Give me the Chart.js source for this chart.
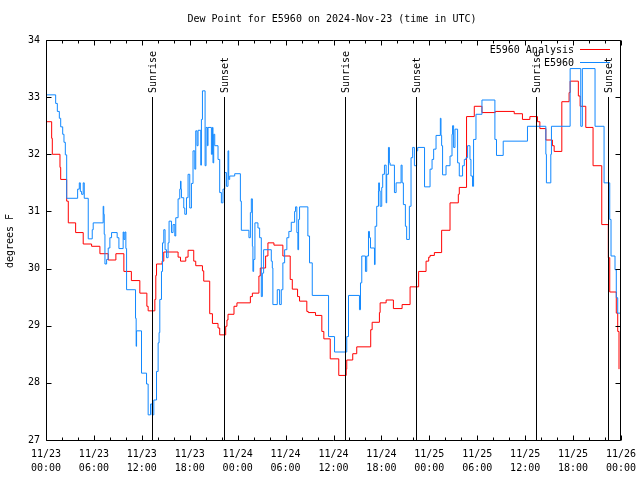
<!DOCTYPE html>
<html>
<head>
<meta charset="utf-8">
<script src="https://cdn.jsdelivr.net/npm/chart.js@4/dist/chart.umd.min.js"></script>
<style>html,body{margin:0;padding:0;background:#fff}canvas{display:block}</style>
</head>
<body>
<canvas id="c" width="640" height="480"></canvas>
<script>
// ---- data (hours since 2024-11-23 00:00 UTC) ----
const analysisHours = [0,0.71,0.79,1.75,1.84,2.59,2.79,3.71,4.66,5.71,6.75,7.79,8.75,9.75,10.69,11.75,12.63,12.79,13.63,13.75,13.84,14.54,14.75,16.54,16.84,17.5,17.79,18.5,18.75,19.59,19.75,20.5,20.84,21.54,21.75,22.5,22.66,22.79,23.54,23.91,25.59,25.84,26.66,26.83,27.5,27.79,28.54,29.66,30.58,30.84,31.5,31.75,32.66,32.84,33.75,34.54,34.79,35.59,36.66,37.59,37.66,38.41,38.91,40.66,40.84,41.75,41.84,42.59,43.5,44.59,45.59,46.66,47.59,47.92,48.09,48.63,49.54,50.59,51.63,51.75,52.66,53.63,54.59,56.25,58.63,59.66,60.59,61.54,61.84,62.59,63.41,63.63,64.59,65.5,65.63,66.66,66.88,67.59,68.5,69.59,70.41,70.59,71.41,71.59,71.75];
const analysisValues = [32.57,32.28,32.0,31.77,31.56,31.18,30.8,30.63,30.43,30.39,30.26,30.15,30.26,29.95,29.79,29.57,29.34,29.26,29.46,29.88,30.08,30.13,30.29,30.2,30.13,30.2,30.32,30.13,30.05,29.96,29.78,29.21,29.04,28.96,28.84,28.99,29.1,29.2,29.34,29.4,29.51,29.57,29.87,30.01,30.22,30.45,30.41,30.22,29.81,29.64,29.51,29.43,29.25,29.23,29.18,28.9,28.77,28.42,28.13,28.24,28.4,28.51,28.63,28.93,29.06,29.23,29.4,29.45,29.3,29.37,29.68,29.95,30.13,30.2,30.23,30.28,30.67,31.15,31.3,31.42,32.66,32.84,32.73,32.75,32.71,32.61,32.66,32.57,32.45,32.25,32.15,32.05,32.92,33.08,33.28,33.02,32.84,32.47,31.8,30.77,30.19,29.59,29.22,28.9,28.24];

const stationHours = [0,1.21,1.42,1.67,1.84,2.09,2.25,2.42,2.59,3.96,4.17,4.3,4.46,4.66,4.79,5.29,5.79,5.91,7.16,7.23,7.29,7.38,7.59,7.79,8.0,8.21,8.91,9.13,9.66,9.75,9.88,10.0,10.09,11.21,11.29,11.34,11.96,12.59,12.79,13.09,13.29,13.5,13.84,14.04,14.16,14.25,14.46,14.59,14.75,14.91,15.09,15.29,15.41,15.71,15.91,16.13,16.25,16.54,16.75,16.84,16.91,16.96,17.25,17.38,17.59,17.79,18.0,18.21,18.41,18.63,18.75,18.91,19.04,19.38,19.46,19.59,19.92,20.04,20.21,20.29,20.71,20.84,20.91,21.0,21.13,21.54,21.75,21.96,22.16,22.38,22.59,22.79,22.88,23.0,23.63,24.34,24.46,25.41,25.59,25.71,25.84,25.91,26.0,26.16,26.54,26.75,26.96,27.09,27.25,28.21,28.34,28.41,28.96,29.25,29.46,29.66,29.88,30.16,30.41,30.71,31.13,31.25,31.41,31.54,31.63,31.75,32.79,33.0,33.34,35.38,36.13,37.66,37.88,39.25,39.38,39.54,40.0,40.16,40.38,40.5,40.63,41.13,41.21,41.41,41.63,41.66,41.75,41.84,42.04,42.16,42.38,42.59,42.66,42.88,43.0,43.09,43.63,43.84,44.46,44.59,44.75,45.0,45.16,45.5,45.71,45.91,46.13,46.41,46.54,47.4,48.09,48.34,48.54,48.84,49.38,49.46,49.54,49.66,50.09,50.59,50.84,50.91,51.04,51.21,51.54,51.75,52.16,52.38,52.59,52.79,53.09,53.21,53.41,53.54,53.84,54.59,56.21,56.41,57.25,60.29,62.59,62.66,63.21,63.29,65.63,66.96,67.16,68.75,69.88,70.59,70.75,71.25,71.41,71.59,71.9];
const stationValues = [33.04,32.89,32.75,32.63,32.48,32.35,32.21,31.99,31.23,31.39,31.5,31.35,31.3,31.5,31.23,30.52,30.68,30.8,31.09,30.95,30.6,30.08,30.16,30.36,30.54,30.63,30.54,30.35,30.64,30.51,30.64,30.35,29.63,29.13,28.64,28.91,28.17,27.98,27.44,27.63,27.44,27.7,28.2,28.7,28.88,29.46,29.95,30.45,30.68,30.33,30.19,30.45,30.83,30.63,30.77,30.57,30.89,31.22,31.39,31.53,31.39,31.24,31.06,30.95,31.24,31.65,31.06,31.49,32.06,31.74,32.41,32.15,32.42,31.81,32.61,33.11,31.8,32.47,32.15,32.47,32.0,32.47,31.85,32.35,32.15,31.91,31.33,31.15,31.39,31.68,31.44,32.06,31.56,31.62,31.66,31.18,30.67,30.54,30.98,31.22,30.39,29.95,30.16,30.8,30.71,30.54,29.51,29.92,30.33,30.13,30.01,29.37,29.63,29.37,29.63,30.1,30.33,30.54,30.65,30.81,31.0,31.08,30.63,30.33,30.86,31.08,30.57,30.1,29.53,28.81,28.54,28.81,29.53,29.28,29.75,30.22,29.95,30.22,30.65,30.54,30.36,30.07,30.74,31.09,31.36,31.5,31.36,31.09,31.42,31.65,31.81,31.15,31.65,32.12,31.85,31.81,31.33,31.5,31.81,31.5,31.12,30.74,30.51,31.09,31.94,32.12,31.8,32.06,32.12,31.43,31.74,31.91,32.09,32.33,32.63,32.33,32.15,31.64,31.8,31.97,32.35,32.5,32.12,32.44,31.85,31.62,31.8,31.91,31.94,32.15,31.91,31.62,31.44,32.26,32.7,32.95,32.26,31.98,32.23,32.49,32.0,31.5,32.0,32.49,33.5,32.49,33.5,32.49,31.5,30.86,30.22,29.98,29.49,29.22,29.22];

const sunEventHours  = [13.27, 22.28, 37.4, 46.3, 61.4, 70.4];
const sunEventLabels = ['Sunrise','Sunset','Sunrise','Sunset','Sunrise','Sunset'];

const tickDates = ['11/23','11/23','11/23','11/23','11/24','11/24','11/24','11/24','11/25','11/25','11/25','11/25','11/26'];
const tickTimes = ['00:00','06:00','12:00','18:00','00:00','06:00','12:00','18:00','00:00','06:00','12:00','18:00','00:00'];

const seriesNames = ['E5960 Analysis','E5960'];
const seriesColors = ['#ff0000','#1188ff'];
const titleText = 'Dew Point for E5960 on 2024-Nov-23 (time in UTC)';
const yTitle = 'degrees F';

const FONT = '10px "DejaVu Sans Mono", "Liberation Mono", monospace';

function pts(hs, vs){ return hs.map((h,i)=>({x:h, y:vs[i]})); }

const decor = {
  id:'decor',
  beforeDraw(chart){
    const c = chart.ctx; c.save(); c.fillStyle='#fff'; c.fillRect(0,0,chart.width,chart.height); c.restore();
  },
  afterDraw(chart){
    const ctx = chart.ctx, a = chart.chartArea, xs = chart.scales.x, ys = chart.scales.y;
    ctx.save();
    ctx.strokeStyle = '#000'; ctx.fillStyle = '#000'; ctx.lineWidth = 1;
    const L = a.left + 0.5, R = a.right - 0.5, T = a.top + 0.5, B = a.bottom + 0.5;
    // sun lines
    ctx.font = FONT;
    sunEventHours.forEach((h,i)=>{
      const px = Math.round(xs.getPixelForValue(h)) + 0.5;
      ctx.beginPath(); ctx.moveTo(px, 97); ctx.lineTo(px, B); ctx.stroke();
      ctx.save(); ctx.translate(px + 0.5, 93); ctx.rotate(-Math.PI/2);
      ctx.textAlign='left'; ctx.textBaseline='middle'; ctx.fillText(sunEventLabels[i], 0, 0);
      ctx.restore();
    });
    // frame
    ctx.beginPath(); ctx.rect(L, T, R - L, B - T); ctx.stroke();
    // x ticks (every 2 h), inward on bottom and top
    ctx.beginPath();
    for (let h = xs.min; h <= xs.max; h += 2){
      const px = Math.round(xs.getPixelForValue(h)) + 0.5;
      const len = (h % 6 === 0) ? 5 : 3;
      ctx.moveTo(px, B); ctx.lineTo(px, B - len);
      ctx.moveTo(px, T); ctx.lineTo(px, T + len);
    }
    // y ticks
    for (let v = ys.min; v <= ys.max; v += 1){
      const py = Math.round(ys.getPixelForValue(v)) + 0.5;
      ctx.moveTo(L, py); ctx.lineTo(L + 5, py);
      ctx.moveTo(R, py); ctx.lineTo(R - 5, py);
    }
    ctx.stroke();
    // title
    ctx.font = FONT; ctx.textAlign='center'; ctx.textBaseline='middle';
    ctx.fillText(titleText, 332, 19);
    // y title
    ctx.save(); ctx.translate(10, 241); ctx.rotate(-Math.PI/2);
    ctx.fillText(yTitle, 0, 0); ctx.restore();
    // legend
    ctx.textAlign='right'; ctx.textBaseline='middle';
    [50, 63].forEach((yy,i)=>{
      ctx.fillStyle = '#000';
      ctx.fillText(seriesNames[i], 574, yy);
      ctx.strokeStyle = seriesColors[i];
      ctx.beginPath(); ctx.moveTo(580, yy - 0.5); ctx.lineTo(610, yy - 0.5); ctx.stroke();
    });
    ctx.restore();
  }
};

new Chart(document.getElementById('c'), {
  type: 'line',
  data: {
    datasets: [
      { label: seriesNames[1], data: pts(stationHours, stationValues), borderColor: seriesColors[1],
        borderWidth: 1, pointRadius: 0, stepped: true, fill: false, order: 0 },
      { label: seriesNames[0], data: pts(analysisHours, analysisValues), borderColor: seriesColors[0],
        borderWidth: 1, pointRadius: 0, stepped: true, fill: false, order: 1 }
    ]
  },
  options: {
    responsive: false, animation: false, devicePixelRatio: 1,
    layout: { padding: { left: 0, right: 19, top: 40, bottom: 0 } },
    plugins: { legend: { display: false }, title: { display: false }, tooltip: { enabled: false } },
    scales: {
      x: {
        type: 'linear', min: 0, max: 72,
        grid: { display: false, drawTicks: false }, border: { display: false },
        ticks: { stepSize: 6, autoSkip: false, maxRotation: 0, color: '#000', padding: 8,
                 font: { family: '"DejaVu Sans Mono", monospace', size: 10, lineHeight: 1.35 },
                 callback: (v, i) => [tickDates[i], tickTimes[i]] },
        afterFit: s => { s.height = 40; s.paddingLeft = 0; s.paddingRight = 0; }
      },
      y: {
        min: 27, max: 34,
        grid: { display: false, drawTicks: false }, border: { display: false },
        ticks: { stepSize: 1, color: '#000', padding: 6,
                 font: { family: '"DejaVu Sans Mono", monospace', size: 10 } },
        afterFit: s => { s.width = 46; s.paddingTop = 0; s.paddingBottom = 0; }
      }
    }
  },
  plugins: [decor]
});
</script>
</body>
</html>
